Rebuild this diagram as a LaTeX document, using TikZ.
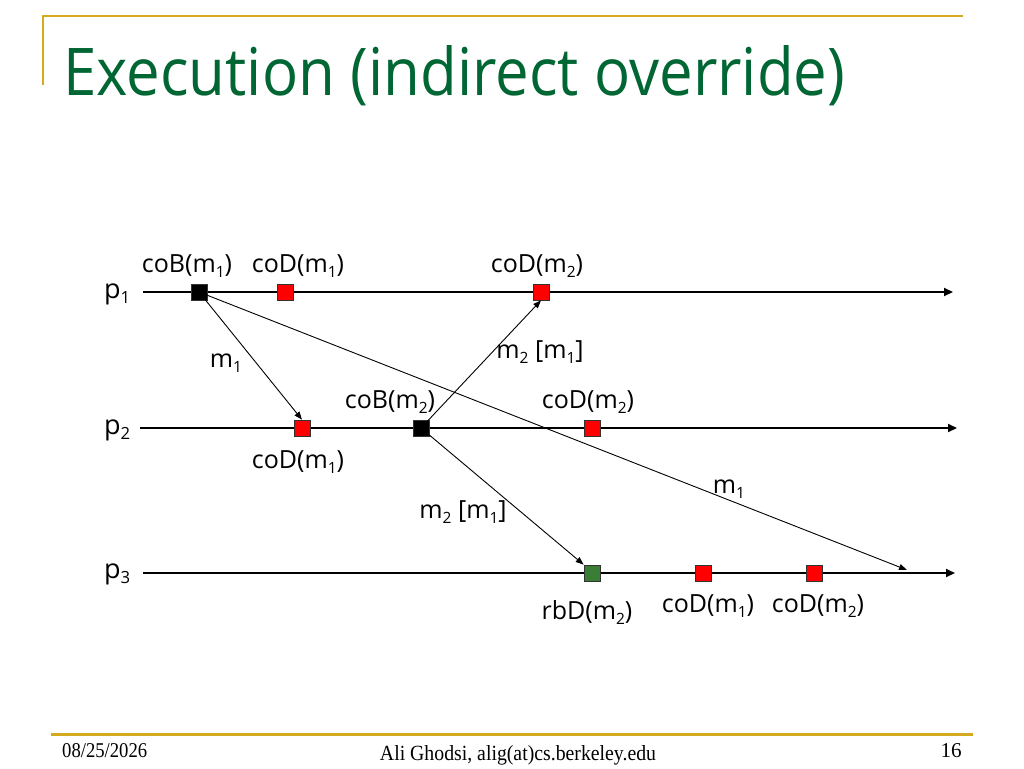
\documentclass[tikz,border=0pt]{standalone}
\usepackage{fontspec}
\setmainfont{Open Sans}
\newfontfamily\footfont{Liberation Serif}
\usetikzlibrary{arrows.meta}
\definecolor{titlegreen}{RGB}{0,102,51}
\definecolor{slidegold}{RGB}{212,170,30}
\definecolor{evgreen}{RGB}{58,125,52}
\newcommand\ssb[1]{\raisebox{-0.2em}{\scalebox{0.62}{#1}}}
\begin{document}
\begin{tikzpicture}[x=1pt,y=-1pt,
  timeline/.style={line width=2pt,-{Triangle[length=9pt,width=8pt]}},
  msg/.style={line width=0.9pt,-{Triangle[length=8pt,width=6pt]}},
  ev/.style={draw=black!80, minimum size=16pt, inner sep=0pt, line width=0.7pt},
  redev/.style={ev, fill=red},
  blkev/.style={ev, fill=black},
  grnev/.style={ev, fill=evgreen},
  lbl/.style={font=\fontsize{25}{29}\selectfont, inner sep=0pt, anchor=base},
  plbl/.style={font=\fontsize{27}{31}\selectfont, inner sep=0pt, anchor=base west},
  foot/.style={font=\footfont\fontsize{20}{22}\selectfont, inner sep=0pt}
]
\useasboundingbox[fill=white] (0,0) rectangle (1024,768);
% decorations
\draw[slidegold, line width=2pt] (42,16) -- (963,16);
\draw[slidegold, line width=2pt] (43,16) -- (43,85);
\draw[slidegold, line width=3pt] (51,734) -- (973,734);
\node[anchor=base west, inner sep=0pt, text=titlegreen] (title) at (63,95)
  {\resizebox{782pt}{50pt}{\fontsize{60}{70}\selectfont Execution (indirect override)}};
\node[foot, anchor=base west] (date) at (62,757) {\resizebox{85pt}{14pt}{08/25/2026}};
\node[foot, anchor=base] (author) at (518,760) {\resizebox{276pt}{15pt}{Ali Ghodsi, alig(at)cs.berkeley.edu}};
\node[foot, anchor=base east] (page) at (962,757) {\resizebox{!}{14pt}{16}};

% process labels
\node[plbl] (p1) at (104,298) {p\ssb{1}};
\node[plbl] (p2) at (104,434) {p\ssb{2}};
\node[plbl] (p3) at (104,578) {p\ssb{3}};

% timelines
\coordinate (s1) at (143,292); \coordinate (e1) at (953,292);
\coordinate (s2) at (140,428); \coordinate (e2) at (957,428);
\coordinate (s3) at (143,573); \coordinate (e3) at (955,573);
\draw[timeline] (s1) -- (e1);
\draw[timeline] (s2) -- (e2);
\draw[timeline] (s3) -- (e3);

% events
\node[blkev] (a1) at (199,292) {};
\node[redev] (a2) at (285,292) {};
\node[redev] (a3) at (541,292) {};
\node[redev] (b1) at (302,428) {};
\node[blkev] (b2) at (421,428) {};
\node[redev] (b3) at (592,428) {};
\node[grnev] (c1) at (592,573) {};
\node[redev] (c2) at (703,573) {};
\node[redev] (c3) at (814,573) {};
\coordinate (c4) at (907,570);

% messages
\draw[msg] (a1.center) -- (b1.north);
\draw[msg] (a1.center) -- (c4);
\draw[msg] (b2.center) -- (a3.south);
\draw[msg] (b2.center) -- (c1.north west);

% labels
\node[lbl] (la1) at (187,272) {coB(m\ssb{1})};
\node[lbl] (la2) at (298,272) {coD(m\ssb{1})};
\node[lbl] (la3) at (537,272) {coD(m\ssb{2})};
\node[lbl] (lb1) at (298,468) {coD(m\ssb{1})};
\node[lbl] (lb2) at (390,408) {coB(m\ssb{2})};
\node[lbl] (lb3) at (588,408) {coD(m\ssb{2})};
\node[lbl] (lc1) at (587,619) {rbD(m\ssb{2})};
\node[lbl] (lc2) at (708,612) {coD(m\ssb{1})};
\node[lbl] (lc3) at (818,612) {coD(m\ssb{2})};
\node[lbl] (lm1) at (226,367) {m\ssb{1}};
\node[lbl] (lm2) at (540,358) {m\ssb{2} [m\ssb{1}]};
\node[lbl] (lm3) at (729,493) {m\ssb{1}};
\node[lbl] (lm4) at (463,518) {m\ssb{2} [m\ssb{1}]};
\end{tikzpicture}
\end{document}
